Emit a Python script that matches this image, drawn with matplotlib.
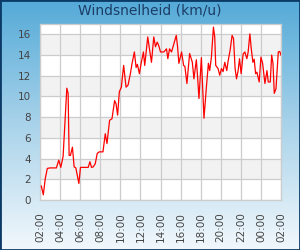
import matplotlib
matplotlib.use("Agg")
import matplotlib.pyplot as plt
import numpy as np
from matplotlib.colors import LinearSegmentedColormap
from matplotlib.patches import Rectangle

title = "Windsnelheid (km/u)"
tick_labels = ["02:00", "04:00", "06:00", "08:00", "10:00", "12:00", "14:00",
               "16:00", "18:00", "20:00", "22:00", "00:00", "02:00"]
# hours since 02:00
hours = [0.13, 0.33, 0.53, 0.73, 1.0, 1.63, 1.87, 2.07, 2.3, 2.67, 2.8, 2.9, 3.03,
         3.23, 3.4, 3.57, 3.87, 4.03, 4.8, 4.97, 5.13, 5.3, 5.5, 5.7, 5.9, 6.27,
         6.5, 6.67, 6.93, 7.17, 7.43, 7.57, 7.73, 7.9, 8.1, 8.33, 8.57, 8.77,
         9.0, 9.17, 9.4, 9.57, 9.7, 9.9, 10.07, 10.3, 10.43, 10.73, 10.93, 11.1,
         11.33, 11.5, 11.67, 11.83, 12.0, 12.33, 12.6, 12.73, 12.9, 13.1, 13.57,
         13.7, 13.83, 14.1, 14.3, 14.43, 14.63, 14.9, 15.17, 15.33, 15.57, 15.7,
         15.83, 16.07, 16.33, 16.57, 16.77, 16.9, 17.07, 17.27, 17.4, 17.5,
         17.73, 17.9, 18.07, 18.23, 18.4, 18.6, 18.73, 18.93, 19.13, 19.27,
         19.43, 19.57, 19.73, 19.87, 20.03, 20.23, 20.4, 20.6, 20.73, 20.9,
         21.03, 21.2, 21.33, 21.47, 21.6, 21.83, 22.0, 22.17, 22.4, 22.6, 22.73,
         22.93, 23.07, 23.2, 23.33, 23.5, 23.73, 23.87, 24.0]
speed = [1.35, 0.5, 2.1, 3.05, 3.1, 3.1, 3.85, 3.15, 4.2, 10.8, 10.3, 4.3, 4.3,
         5.1, 3.2, 3.1, 1.6, 3.15, 3.15, 3.7, 3.15, 3.2, 3.5, 4.5, 4.65, 4.65,
         6.4, 5.45, 7.7, 7.85, 9.6, 9.3, 8.2, 10.45, 10.9, 13.0, 10.9, 11.1,
         12.2, 13.2, 14.3, 12.8, 13.1, 12.2, 13.2, 14.3, 13.0, 15.75, 14.4, 13.3,
         15.75, 14.8, 15.25, 14.9, 14.3, 14.3, 14.6, 13.65, 14.6, 14.3, 15.9,
         14.8, 13.2, 14.3, 13.0, 12.9, 11.25, 14.15, 13.3, 11.7, 13.55, 11.8,
         9.8, 13.75, 7.9, 10.9, 13.2, 12.5, 13.8, 16.7, 15.75, 13.0,
         12.7, 12.05, 12.7, 12.4, 13.3, 12.5, 13.4, 14.45, 15.9, 15.6,
         12.7, 11.7, 12.5, 13.65, 12.2, 14.1, 14.3, 13.65, 14.3, 16.05,
         14.7, 13.3, 13.6, 12.2, 12.35, 11.4, 13.8, 13.2, 11.25, 12.5, 11.4,
         11.4, 14.0, 13.2, 10.3, 10.75, 14.3, 14.35, 14.0]

fig = plt.figure(figsize=(3.0, 2.5), dpi=100)

# background gradient
bg = fig.add_axes([0, 0, 1, 1], zorder=-10)
cmap = LinearSegmentedColormap.from_list("bg", ["#54aad8", "#a9d3ea", "#f2f8fc"])
grad = np.linspace(0, 1, 256).reshape(-1, 1)
bg.imshow(grad, aspect="auto", cmap=cmap, extent=[0, 1, 0, 1], origin="upper")
bg.set_axis_off()
bg.add_patch(Rectangle((0, 0), 1, 1, transform=bg.transAxes, fill=False,
                       edgecolor="#0b3a66", linewidth=2.0, clip_on=False))

ax = fig.add_axes([40 / 300, 50 / 250, 241 / 300, 176 / 250])
ax.set_facecolor("white")
ymax = 17
for y0 in range(2, 17, 4):
    ax.axhspan(y0, y0 + 2, color="#f2f2f2", zorder=0, linewidth=0)
ax.set_xlim(0, 24)
ax.set_ylim(0, ymax)
ax.set_yticks(range(0, 17, 2))
ax.set_xticks(range(0, 25, 2))
ax.set_xticklabels(tick_labels, rotation=90)
ax.grid(True, color="#cccccc", linewidth=0.9, zorder=1)
ax.set_axisbelow(True)
for s in ax.spines.values():
    s.set_color("#cccccc")
    s.set_linewidth(0.9)
ax.tick_params(axis="both", length=0, labelsize=7.5, colors="#444444")
ax.tick_params(axis="x", pad=9)
ax.tick_params(axis="y", pad=6.5)

ax.plot(hours, speed, color="#ff0000", linewidth=0.9, zorder=3)

fig.text(0.5, 1 - 11 / 250, title, ha="center", va="center", fontsize=10,
         color="#1b3d66")

fig.savefig("out.png", dpi=100)
